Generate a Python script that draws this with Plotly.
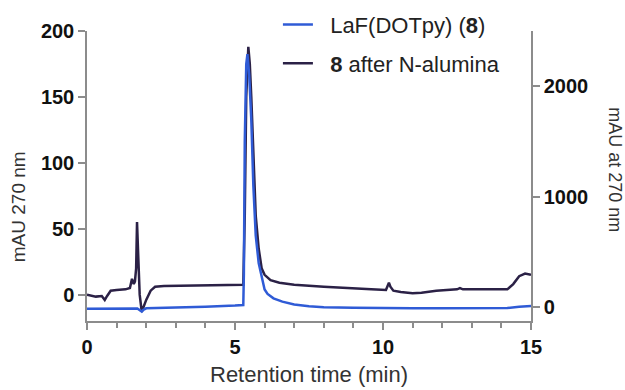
import plotly.graph_objects as go

# Dark trace: "8 after N-alumina" (left axis, mAU 270 nm)
dark_t = [0, 0.3, 0.5, 0.6, 0.68, 0.8, 1.0, 1.3, 1.45, 1.52, 1.58, 1.62, 1.66, 1.69, 1.73, 1.78,
          1.85, 1.9, 2.0, 2.15, 2.3, 2.6, 3.5, 4.5, 5.28, 5.33, 5.38, 5.45, 5.5, 5.55, 5.62, 5.7,
          5.8, 5.9, 6.0, 6.2, 6.5, 7.0, 8.0, 9.0, 9.6, 10.1, 10.2, 10.25, 10.35, 10.6, 11.0, 11.3,
          11.8, 12.5, 12.6, 12.7, 13.5, 14.2, 14.4, 14.6, 14.8, 15.0]
dark_v = [0, -1.5, -1, -4, -1, 3, 3.5, 4, 5, 12, 8, 10, 20, 55, 30, 0,
          -13, -10, -4, 3, 6, 6.5, 7, 7.5, 7.5, 60, 150, 188, 175, 150, 100, 60,
          35, 20, 15, 11, 9, 7.5, 6, 4.5, 4, 3.5, 9, 6, 3, 2, 1, 1.5,
          3, 4, 5, 4, 4, 4, 8, 14, 16, 15]

# Blue trace: "LaF(DOTpy) (8)" (right axis, mAU at 270 nm)
blue_t = [0, 1.0, 1.7, 1.85, 1.9, 2.0, 3.0, 4.0, 5.0, 5.28, 5.3, 5.33, 5.38, 5.42, 5.48, 5.55,
          5.62, 5.7, 5.8, 5.9, 5.95, 6.0, 6.1, 6.3, 6.6, 7.0, 7.5, 8.0, 9.0, 10.0, 11.0, 12.0,
          13.0, 14.2, 14.6, 15.0]
blue_v = [-15, -15, -12, -40, -25, -10, -5, 5, 15, 20, 300, 1500, 2200, 2290, 2100, 1700,
          1100, 650, 400, 270, 230, 160, 120, 80, 50, 25, 8, 0, -5, -10, -10, -10,
          -10, -8, 5, 10]

x_ticks = [0, 5, 10, 15]
left_ticks = [0, 50, 100, 150, 200]
right_ticks = [0, 1000, 2000]

FONT = "Liberation Sans, Arial, Helvetica, sans-serif"
AXIS_COL = "#8c8c8c"
PAD = "\u00a0\u00a0"

fig = go.Figure()
fig.add_trace(go.Scatter(
    x=dark_t, y=dark_v, mode="lines", name=PAD + "<b>8</b> after N-alumina",
    line=dict(color="#2b2146", width=2.5), legendrank=2, legendgroup="b",
    yaxis="y"))
fig.add_trace(go.Scatter(
    x=blue_t, y=blue_v, mode="lines", name=PAD + "LaF(DOTpy) (<b>8</b>)",
    line=dict(color="#2f5bd6", width=2.5), legendrank=1, legendgroup="a",
    yaxis="y2"))

fig.update_layout(
    width=625, height=390,
    margin=dict(l=87, r=94, t=31, b=69, autoexpand=False),
    plot_bgcolor="white", paper_bgcolor="white",
    font=dict(family=FONT, color="#222"),
    showlegend=True,
    legend=dict(x=0.43, y=1.094, xanchor="left", yanchor="top",
                font=dict(size=22, color="#222"), bgcolor="rgba(0,0,0,0)",
                tracegroupgap=7, itemwidth=30),
    xaxis=dict(range=[0, 15], tickvals=x_ticks, showline=True, linecolor=AXIS_COL,
               linewidth=1.5, ticks="outside", ticklen=7, tickcolor=AXIS_COL, tickwidth=1.5,
               showgrid=False, zeroline=False,
               tickfont=dict(size=20, color="#111", family=FONT, weight="bold"),
               minor=dict(dtick=1, ticks="outside", ticklen=5, tickcolor=AXIS_COL, tickwidth=1.5)),
    yaxis=dict(range=[-20, 200], tickvals=left_ticks, showline=True, linecolor=AXIS_COL,
               linewidth=1.5, ticks="outside", ticklen=7, tickcolor=AXIS_COL, tickwidth=1.5,
               showgrid=False, zeroline=False,
               tickfont=dict(size=20, color="#111", family=FONT, weight="bold")),
    yaxis2=dict(range=[-125, 2500], tickvals=right_ticks, overlaying="y", side="right",
                anchor="x", showline=True, linecolor=AXIS_COL, linewidth=1.5,
                ticks="outside", ticklen=7, tickcolor=AXIS_COL, tickwidth=1.5,
                showgrid=False, zeroline=False,
                tickfont=dict(size=20, color="#111", family=FONT, weight="bold")),
    annotations=[
        dict(text="Retention time (min)", x=0.5, y=-0.186, xref="paper", yref="paper",
             xanchor="center", yanchor="middle", showarrow=False,
             font=dict(size=22, color="#333", family=FONT)),
        dict(text="mAU 270 nm", x=-0.155, y=0.393, xref="paper", yref="paper",
             xanchor="center", yanchor="middle", showarrow=False, textangle=-90,
             font=dict(size=19, color="#333", family=FONT)),
        dict(text="mAU at 270 nm", x=1.189, y=0.52, xref="paper", yref="paper",
             xanchor="center", yanchor="middle", showarrow=False, textangle=90,
             font=dict(size=18, color="#333", family=FONT)),
    ],
)

fig.write_html("out.html")
